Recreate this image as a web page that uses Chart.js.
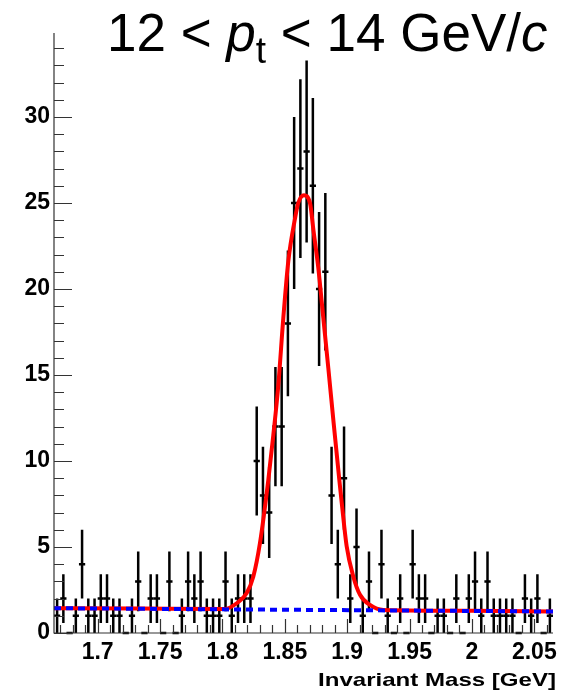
<!DOCTYPE html>
<html>
<head>
<meta charset="utf-8">
<title>Invariant mass, 12 &lt; pt &lt; 14 GeV/c</title>
<script src="https://cdn.jsdelivr.net/npm/chart.js@4.4.0/dist/chart.umd.min.js"></script>
<style>
  html, body { margin: 0; padding: 0; background: #fff; }
  canvas { display: block; }
</style>
</head>
<body>
<canvas id="massChart" width="578" height="695"></canvas>
<script>
// histogram: 5 MeV bins between 1.665 and 2.065 GeV
const binWidth = 0.005;
const binCenters = [
  1.6675, 1.6725, 1.6775, 1.6825, 1.6875, 1.6925, 1.6975, 1.7025, 1.7075, 1.7125,
  1.7175, 1.7225, 1.7275, 1.7325, 1.7375, 1.7425, 1.7475, 1.7525, 1.7575, 1.7625,
  1.7675, 1.7725, 1.7775, 1.7825, 1.7875, 1.7925, 1.7975, 1.8025, 1.8075, 1.8125,
  1.8175, 1.8225, 1.8275, 1.8325, 1.8375, 1.8425, 1.8475, 1.8525, 1.8575, 1.8625,
  1.8675, 1.8725, 1.8775, 1.8825, 1.8875, 1.8925, 1.8975, 1.9025, 1.9075, 1.9125,
  1.9175, 1.9225, 1.9275, 1.9325, 1.9375, 1.9425, 1.9475, 1.9525, 1.9575, 1.9625,
  1.9675, 1.9725, 1.9775, 1.9825, 1.9875, 1.9925, 1.9975, 2.0025, 2.0075, 2.0125,
  2.0175, 2.0225, 2.0275, 2.0325, 2.0375, 2.0425, 2.0475, 2.0525, 2.0575, 2.0625
];
const binCounts = [
  1, 2, 0, 1, 4, 1, 1, 2, 2, 1,
  1, 0, 1, 3, 0, 2, 2, 0, 3, 0,
  1, 3, 2, 3, 1, 1, 1, 3, 1, 2,
  2, 2, 10, 8, 7, 12, 12, 18, 25, 27,
  28, 26, 20, 21, 8, 4, 9, 2, 5, 1,
  3, 0, 4, 1, 0, 2, 0, 4, 2, 2,
  0, 1, 1, 0, 2, 0, 2, 3, 1, 3,
  1, 1, 1, 1, 0, 2, 1, 2, 0, 1
];

// signal + background fit
const fitMass = [
  1.665, 1.735, 1.802, 1.8115, 1.8195, 1.8248, 1.8301, 1.8368, 1.8408, 1.8448,
  1.8488, 1.8528, 1.8582, 1.8608, 1.8654, 1.8702, 1.8730, 1.8769, 1.8809, 1.8849,
  1.8889, 1.8937, 1.8956, 1.8996, 1.9049, 1.9103, 1.9183, 1.929, 2.0, 2.065
];
const fitYield = [
  1.44, 1.42, 1.40, 1.73, 2.32, 3.29, 5.23, 8.9, 11.5, 14.4,
  18.3, 21.6, 24.1, 25.0, 25.45, 25.0, 23.4, 21.2, 18.3, 15.4,
  12.4, 8.9, 7.6, 5.04, 3.29, 2.22, 1.63, 1.34, 1.29, 1.25
];

// background component alone
const bkgMass = [1.665, 2.065];
const bkgYield = [1.44, 1.25];

const massTicks = [1.7, 1.75, 1.8, 1.85, 1.9, 1.95, 2, 2.05];
const yieldTicks = [0, 5, 10, 15, 20, 25, 30];

const FONT = '"Liberation Sans", Arial, Helvetica, sans-serif';

// vertical sqrt(N) error bars plus a horizontal bar across the bin
const errorBars = {
  id: 'errorBars',
  beforeDatasetsDraw(chart) {
    const { ctx, scales: { x, y } } = chart;
    const pts = chart.data.datasets[2].data;
    ctx.save();
    ctx.strokeStyle = '#000';
    ctx.lineWidth = 2.5;
    pts.forEach(p => {
      const err = Math.sqrt(p.y);
      const yc = y.getPixelForValue(p.y);
      const xc = x.getPixelForValue(p.x);
      ctx.beginPath();
      ctx.moveTo(x.getPixelForValue(p.x - binWidth / 2), yc);
      ctx.lineTo(x.getPixelForValue(p.x + binWidth / 2), yc);
      if (p.y > 0) {
        ctx.moveTo(xc, y.getPixelForValue(p.y - err));
        ctx.lineTo(xc, y.getPixelForValue(p.y + err));
      }
      ctx.stroke();
    });
    ctx.restore();
  }
};

// axis lines with inward ticks
const axisTicks = {
  id: 'axisTicks',
  afterDatasetsDraw(chart) {
    const { ctx, chartArea: a, scales: { x, y } } = chart;
    ctx.save();
    ctx.strokeStyle = '#333';
    ctx.lineWidth = 1.2;
    ctx.beginPath();
    ctx.moveTo(a.left, a.top + 2);
    ctx.lineTo(a.left, a.bottom);
    ctx.lineTo(a.right, a.bottom);
    for (let v = 0; v <= 34; v++) {
      const py = Math.round(y.getPixelForValue(v)) + 0.5;
      ctx.moveTo(a.left, py);
      ctx.lineTo(a.left + (v % 5 === 0 ? 18 : 10), py);
    }
    for (let k = 167; k <= 206; k++) {
      const px = Math.round(x.getPixelForValue(k / 100)) + 0.5;
      ctx.moveTo(px, a.bottom);
      ctx.lineTo(px, a.bottom - (k % 5 === 0 ? 14 : 8));
    }
    ctx.stroke();
    ctx.restore();
  }
};

// pt bin label on top and the mass axis title
const labels = {
  id: 'labels',
  afterDraw(chart) {
    const ctx = chart.ctx;
    ctx.save();
    ctx.fillStyle = '#000';
    ctx.textBaseline = 'alphabetic';
    const base = 51;
    let px = 107;
    const parts = [
      { t: '12 < ', f: `53px ${FONT}`, dy: 0 },
      { t: 'p', f: `italic 53px ${FONT}`, dy: 0 },
      { t: 't', f: `37px ${FONT}`, dy: 12 },
      { t: ' < 14 GeV/', f: `53px ${FONT}`, dy: 0 },
      { t: 'c', f: `italic 53px ${FONT}`, dy: 0 }
    ];
    parts.forEach(p => {
      ctx.font = p.f;
      ctx.fillText(p.t, px, base + p.dy);
      px += ctx.measureText(p.t).width;
    });

    const title = 'Invariant Mass [GeV]';
    ctx.font = `bold 19px ${FONT}`;
    const w = ctx.measureText(title).width;
    const sx = 238 / w;
    ctx.translate(556, 686);
    ctx.scale(sx, 1);
    ctx.textAlign = 'right';
    ctx.fillText(title, 0, 0);
    ctx.restore();
  }
};

new Chart(document.getElementById('massChart'), {
  type: 'line',
  data: {
    datasets: [
      {
        label: 'Background',
        data: bkgMass.map((m, i) => ({ x: m, y: bkgYield[i] })),
        borderColor: '#0000ff',
        borderWidth: 4,
        borderDash: [7, 5],
        pointRadius: 0,
        fill: false
      },
      {
        label: 'Fit',
        data: fitMass.map((m, i) => ({ x: m, y: fitYield[i] })),
        borderColor: '#ff0000',
        borderWidth: 4,
        pointRadius: 0,
        cubicInterpolationMode: 'monotone',
        fill: false
      },
      {
        label: 'Data',
        data: binCenters.map((m, i) => ({ x: m, y: binCounts[i] })),
        showLine: false,
        pointRadius: 0
      }
    ]
  },
  options: {
    responsive: false,
    animation: false,
    layout: { padding: { top: 31, right: 25, left: 0, bottom: 0 } },
    plugins: {
      legend: { display: false },
      tooltip: { enabled: false },
      title: { display: false }
    },
    scales: {
      x: {
        type: 'linear',
        min: 1.665,
        max: 2.065,
        grid: { display: false, drawTicks: false },
        border: { display: false },
        afterBuildTicks: s => { s.ticks = massTicks.map(v => ({ value: v })); },
        afterFit: s => { s.height = 62; },
        ticks: {
          autoSkip: false,
          maxRotation: 0,
          padding: 6,
          color: '#000',
          font: { family: FONT, size: 23, weight: 'bold' },
          callback: v => String(+v.toFixed(3))
        }
      },
      y: {
        min: 0,
        max: 35,
        grid: { display: false, drawTicks: false },
        border: { display: false },
        afterBuildTicks: s => { s.ticks = yieldTicks.map(v => ({ value: v })); },
        afterFit: s => { s.width = 54; },
        ticks: {
          padding: 4,
          color: '#000',
          font: { family: FONT, size: 23, weight: 'bold' },
          callback: v => String(v)
        }
      }
    }
  },
  plugins: [errorBars, axisTicks, labels]
});
</script>
</body>
</html>
